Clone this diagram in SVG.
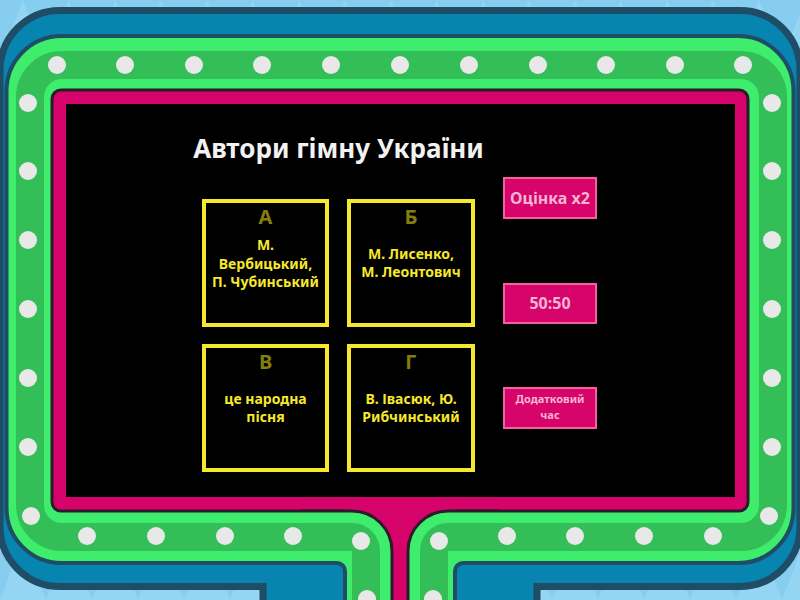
<svg xmlns="http://www.w3.org/2000/svg" width="800" height="600" viewBox="0 0 800 600">
<defs>
<style>
.dot{fill:#e8e8e8}
.ans{fill:#000;stroke:#f6e82c;stroke-width:4}
.letter{font-family:"Noto Sans","DejaVu Sans",sans-serif;font-weight:700;font-size:20px;fill:#867e08;text-anchor:middle}
.atext{font-family:"Noto Sans","DejaVu Sans",sans-serif;font-weight:700;font-size:14px;fill:#f6e82c;text-anchor:middle}
.btn{fill:#d7046b;stroke:#f2619d;stroke-width:2}
.btext{font-family:"Noto Sans","DejaVu Sans",sans-serif;font-weight:700;fill:#f7b5d1;text-anchor:middle}
.title{font-family:"Noto Sans","DejaVu Sans",sans-serif;font-weight:700;font-size:26px;fill:#f2f2f2;text-anchor:middle}
</style>
<pattern id="tri" width="46" height="60" patternUnits="userSpaceOnUse">
<rect width="46" height="60" fill="#86cdef"/>
<polygon points="0,60 23,0 46,60" fill="#93d5f3"/>
</pattern>
</defs>

<g id="background">
<rect width="800" height="600" fill="url(#tri)"/>
</g>

<g id="frame">
<path d="M60 10.5 H740 A60 60 0 0 1 800 70.5 V526.5 A60 60 0 0 1 740 586.5 H537 V606 H263 V586.5 H60 A60 60 0 0 1 0 526.5 V70.5 A60 60 0 0 1 60 10.5 Z" fill="#0784af" stroke="#1f4d66" stroke-width="7"/>
<rect x="6.5" y="36" width="787" height="527" rx="55" fill="#3ded6b" stroke="#1f4d66" stroke-width="4"/>
<rect x="30" y="65" width="743" height="472" rx="32" fill="none" stroke="#33be57" stroke-width="28"/>
<rect x="52" y="90" width="696" height="421" rx="9" fill="#d5036a" stroke="#2b1b2b" stroke-width="3"/>
<rect x="66" y="104" width="669" height="393" fill="#000"/>
<rect x="350" y="505" width="100" height="100" fill="#d5036a"/>
</g>

<g id="pedestal-left">
<path d="M300 511 H352 A40 40 0 0 1 392 551 V602 H345 V571 A8 8 0 0 0 337 563 H300 Z" fill="#3ded6b"/>
<path d="M300 537 H352 A14 14 0 0 1 366 551 V602" fill="none" stroke="#33be57" stroke-width="28"/>
<path d="M300 511 H352 A40 40 0 0 1 392 551 V602" fill="none" stroke="#2b1b2b" stroke-width="3"/>
<path d="M300 563 H337 A8 8 0 0 1 345 571 V602" fill="none" stroke="#1f4d66" stroke-width="4"/>
<circle class="dot" cx="361" cy="541" r="9"/>
<circle class="dot" cx="367" cy="599" r="9"/>
</g>
<use href="#pedestal-left" transform="translate(800,0) scale(-1,1)"/>

<g id="lights">
<circle class="dot" cx="57" cy="65" r="9"/>
<circle class="dot" cx="125" cy="65" r="9"/>
<circle class="dot" cx="194" cy="65" r="9"/>
<circle class="dot" cx="262" cy="65" r="9"/>
<circle class="dot" cx="331" cy="65" r="9"/>
<circle class="dot" cx="400" cy="65" r="9"/>
<circle class="dot" cx="469" cy="65" r="9"/>
<circle class="dot" cx="538" cy="65" r="9"/>
<circle class="dot" cx="606" cy="65" r="9"/>
<circle class="dot" cx="675" cy="65" r="9"/>
<circle class="dot" cx="743" cy="65" r="9"/>
<circle class="dot" cx="28" cy="103" r="9"/>
<circle class="dot" cx="28" cy="171" r="9"/>
<circle class="dot" cx="28" cy="240" r="9"/>
<circle class="dot" cx="28" cy="309" r="9"/>
<circle class="dot" cx="28" cy="378" r="9"/>
<circle class="dot" cx="28" cy="447" r="9"/>
<circle class="dot" cx="31" cy="516" r="9"/>
<circle class="dot" cx="772" cy="103" r="9"/>
<circle class="dot" cx="772" cy="171" r="9"/>
<circle class="dot" cx="772" cy="240" r="9"/>
<circle class="dot" cx="772" cy="309" r="9"/>
<circle class="dot" cx="772" cy="378" r="9"/>
<circle class="dot" cx="772" cy="447" r="9"/>
<circle class="dot" cx="769" cy="516" r="9"/>
<circle class="dot" cx="87" cy="536" r="9"/>
<circle class="dot" cx="156" cy="536" r="9"/>
<circle class="dot" cx="225" cy="536" r="9"/>
<circle class="dot" cx="293" cy="536" r="9"/>
<circle class="dot" cx="507" cy="536" r="9"/>
<circle class="dot" cx="575" cy="536" r="9"/>
<circle class="dot" cx="644" cy="536" r="9"/>
<circle class="dot" cx="713" cy="536" r="9"/>
</g>

<g id="title">
<text class="title" x="338.5" y="158">Автори гімну України</text>
</g>

<g id="answer-a">
<rect class="ans" x="204" y="201" width="123" height="124"/>
<text class="letter" x="265.5" y="224">А</text>
<text class="atext" x="265.5" y="250">М.</text>
<text class="atext" x="265.5" y="268.5">Вербицький,</text>
<text class="atext" x="265.5" y="287">П. Чубинський</text>
</g>

<g id="answer-b">
<rect class="ans" x="349" y="201" width="124" height="124"/>
<text class="letter" x="411" y="224">Б</text>
<text class="atext" x="411" y="258.5">М. Лисенко,</text>
<text class="atext" x="411" y="277">М. Леонтович</text>
</g>

<g id="answer-c">
<rect class="ans" x="204" y="346" width="123" height="124"/>
<text class="letter" x="265.5" y="369">В</text>
<text class="atext" x="265.5" y="403.5">це народна</text>
<text class="atext" x="265.5" y="422">пісня</text>
</g>

<g id="answer-d">
<rect class="ans" x="349" y="346" width="124" height="124"/>
<text class="letter" x="411" y="369">Г</text>
<text class="atext" x="411" y="403.5">В. Івасюк, Ю.</text>
<text class="atext" x="411" y="422">Рибчинський</text>
</g>

<g id="lifeline-double">
<rect class="btn" x="504" y="178" width="92" height="40"/>
<text class="btext" x="550" y="204" font-size="16">Оцінка x2</text>
</g>

<g id="lifeline-5050">
<rect class="btn" x="504" y="284" width="92" height="39"/>
<text class="btext" x="550" y="309" font-size="16">50:50</text>
</g>

<g id="lifeline-time">
<rect class="btn" x="504" y="388" width="92" height="40"/>
<text class="btext" x="550" y="403" font-size="11">Додатковий</text>
<text class="btext" x="550" y="419" font-size="11">час</text>
</g>
</svg>
